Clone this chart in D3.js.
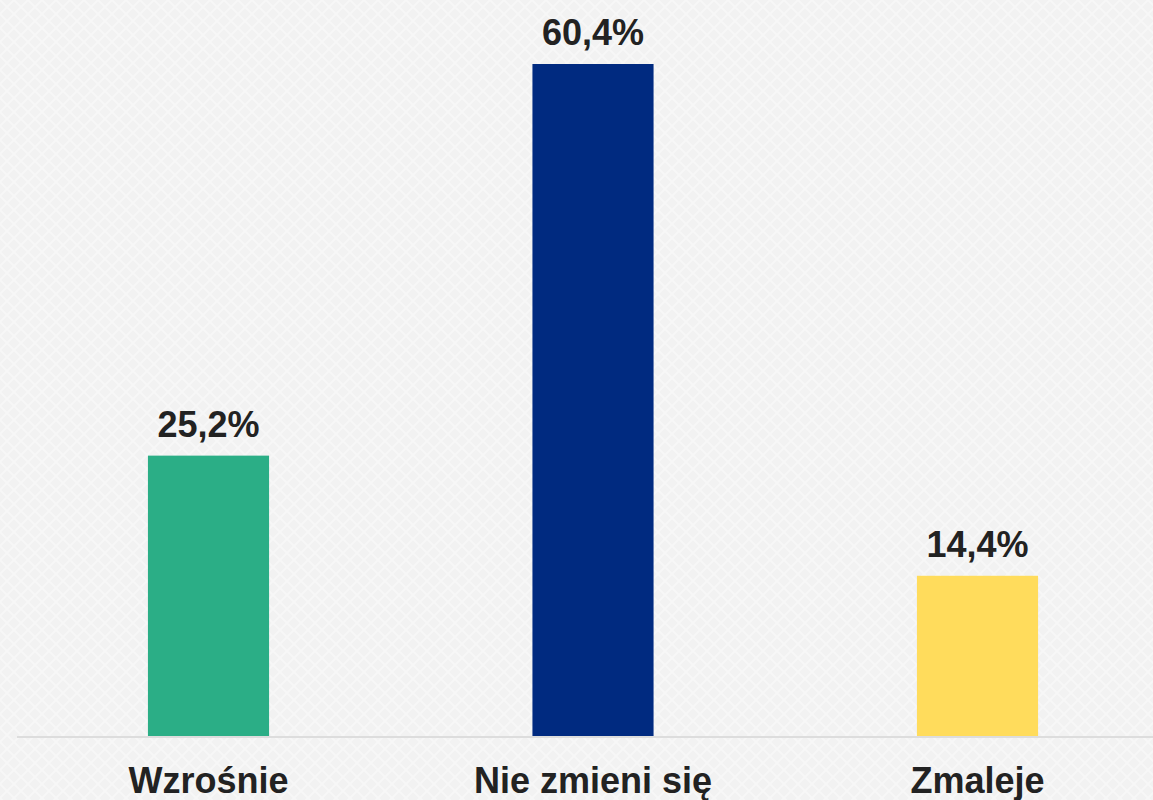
<!DOCTYPE html>
<html>
<head>
<meta charset="utf-8">
<script src="https://cdn.jsdelivr.net/npm/d3@7"></script>
<style>
  html, body { margin: 0; padding: 0; background: #f2f2f2; }
  svg { display: block; }
  text { font-family: "Liberation Sans", Arial, sans-serif; font-weight: bold; fill: #222; }
</style>
</head>
<body>
<div class="chart"></div>
<script>
// data
const categories = ["Wzrośnie", "Nie zmieni się", "Zmaleje"];
const values = [25.2, 60.4, 14.4];
const labels = ["25,2%", "60,4%", "14,4%"];
const colors = ["#2bae86", "#002a80", "#ffdc5c"];

const width = 1153;
const height = 800;
const baseY = 736;

const svg = d3.select(".chart")
  .append("svg")
  .attr("width", width)
  .attr("height", height);

// faint cross-hatch texture like the original background
const defs = svg.append("defs");
const pat = defs.append("pattern")
  .attr("id", "hatch")
  .attr("width", 14)
  .attr("height", 14)
  .attr("patternUnits", "userSpaceOnUse");
pat.append("rect").attr("width", 14).attr("height", 14).attr("fill", "#f2f2f2");
pat.append("path").attr("d", "M0,0L14,14M14,0L0,14")
  .attr("stroke", "#f7f7f7").attr("stroke-width", 2);

svg.append("rect")
  .attr("width", width)
  .attr("height", height)
  .attr("fill", "url(#hatch)");

const xScale = d3.scaleBand()
  .domain(categories)
  .range([16.25, 1169.75])
  .paddingInner(0.685)
  .paddingOuter(0.3425);

const yScale = d3.scaleLinear()
  .domain([0, d3.max(values)])
  .range([baseY, 64]);

const data = categories.map((c, i) => ({cat: c, value: values[i], label: labels[i], color: colors[i]}));

svg.selectAll(".bar")
  .data(data)
  .enter()
  .append("rect")
  .attr("class", "bar")
  .attr("x", d => xScale(d.cat))
  .attr("y", d => yScale(d.value))
  .attr("width", xScale.bandwidth())
  .attr("height", d => baseY - yScale(d.value))
  .attr("fill", d => d.color);

// baseline
svg.append("line")
  .attr("x1", 17)
  .attr("x2", width)
  .attr("y1", baseY + 1)
  .attr("y2", baseY + 1)
  .attr("stroke", "#dddddd")
  .attr("stroke-width", 2);

// value labels
svg.selectAll(".value")
  .data(data)
  .enter()
  .append("text")
  .attr("class", "value")
  .attr("text-anchor", "middle")
  .attr("font-size", 36)
  .attr("x", d => xScale(d.cat) + xScale.bandwidth() / 2)
  .attr("y", d => yScale(d.value) - 19)
  .text(d => d.label);

// category labels
const xAxis = d3.axisBottom(xScale).tickSize(0).tickPadding(0);
const gx = svg.append("g")
  .attr("transform", `translate(0, ${baseY})`)
  .call(xAxis);
gx.select(".domain").remove();
gx.selectAll("text")
  .attr("dy", null)
  .attr("y", 57)
  .attr("font-size", 36)
  .attr("fill", "#222")
  .style("font-family", "'Liberation Sans', Arial, sans-serif")
  .style("font-weight", "bold");
</script>
</body>
</html>
